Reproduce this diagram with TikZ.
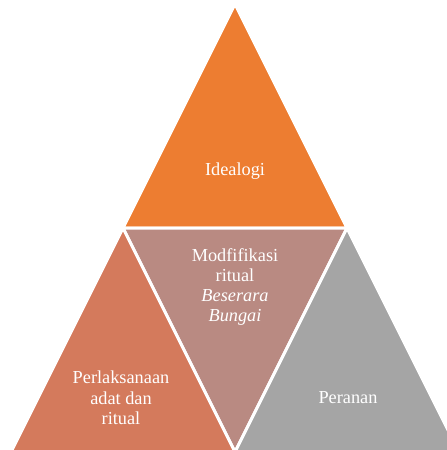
\documentclass[tikz,border=0pt]{standalone}
\usepackage{fontspec}
\setmainfont{Liberation Serif}
\definecolor{orangeT}{HTML}{ED7D31}
\definecolor{mauveT}{HTML}{B98A82}
\definecolor{terraT}{HTML}{D47A5C}
\definecolor{grayT}{HTML}{A5A5A5}
\begin{document}
\begin{tikzpicture}[x=1pt,y=-1pt,
  tri/.style={draw=white,line width=3pt,line join=miter},
  lbl/.style={text=white,align=center,font=\fontsize{18.3}{20.3}\selectfont,inner sep=0pt}]
\useasboundingbox (0,0) rectangle (447,450);
\coordinate (A) at (235,4);
\coordinate (L) at (11,452);
\coordinate (R) at (459,452);
\coordinate (ML) at (123,228);
\coordinate (MR) at (347,228);
\coordinate (MB) at (235,452);
\fill[white] (0,0) rectangle (447,450);
\filldraw[tri,fill=orangeT] (A) -- (ML) -- (MR) -- cycle;
\filldraw[tri,fill=mauveT] (ML) -- (MR) -- (MB) -- cycle;
\filldraw[tri,fill=terraT] (ML) -- (MB) -- (L) -- cycle;
\filldraw[tri,fill=grayT] (MR) -- (R) -- (MB) -- cycle;
\node[lbl] (ideo) at (235,171) {Idealogi};
\node[lbl] (modi) at (235,287) {Modfifikasi\\ritual\\\textit{Beserara}\\\textit{Bungai}};
\node[lbl] (perl) at (121,398) {Perlaksanaan\\adat dan\\ritual};
\node[lbl] (pera) at (348,398) {Peranan};
\end{tikzpicture}
\end{document}
